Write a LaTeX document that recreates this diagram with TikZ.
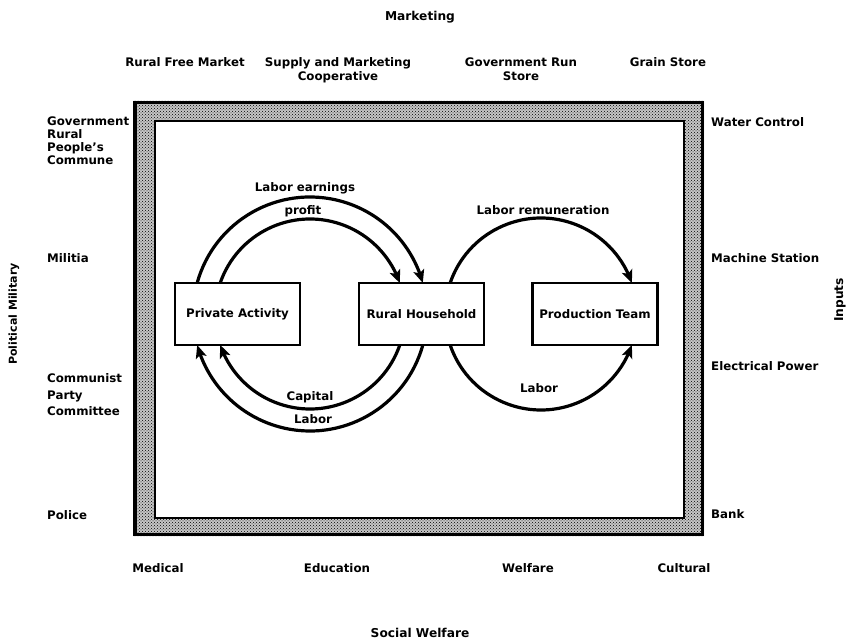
\documentclass[tikz,border=0pt]{standalone}
\usepackage{fontspec}
\setmainfont{DejaVu Sans}
\usetikzlibrary{arrows.meta,patterns,bending}
\begin{document}
\begin{tikzpicture}[x=1pt,y=1pt,
  lbl/.style={font=\bfseries\fontsize{11.8}{14}\selectfont, inner sep=0pt},
  side/.style={lbl, anchor=north west, align=left},
  top/.style={lbl, anchor=north, align=center},
  ttl/.style={font=\bfseries\fontsize{12.2}{14}\selectfont, inner sep=0pt},
  box/.style={draw, line width=2.8pt, minimum width=125pt, minimum height=62pt, inner sep=0pt, lbl},
  flow/.style={line width=3.2pt, -{Stealth[length=13pt,width=11pt,inset=3pt]}},
  arclbl/.style={lbl},
]
\useasboundingbox (0,0) rectangle (855,-644);

% frame
\fill[gray!45, even odd rule] (133,-101) rectangle (704,-536) (155,-121) rectangle (684,-518);
\fill[pattern=crosshatch dots, even odd rule] (133,-101) rectangle (704,-536) (155,-121) rectangle (684,-518);
\draw[line width=3.5pt] (134.75,-102.75) rectangle (702.25,-534.25);
\draw[line width=1.8pt] (155,-121) rectangle (684,-518);

% titles
\node[ttl] (mk) at (420,-17) {Marketing};
\node[ttl] (sw) at (420,-633) {Social Welfare};
\node[ttl, font=\bfseries\fontsize{11}{13}\selectfont, rotate=90] (pm) at (14,-314) {Political Military};
\node[ttl, rotate=90] (inp) at (840,-300) {Inputs};

% top row
\node[top] (rfm) at (185,-57.5) {Rural Free Market};
\node[top] (smc) at (338,-57.5) {Supply and Marketing\\Cooperative};
\node[top] (grs) at (521,-57.5) {Government Run\\Store};
\node[top] (gs)  at (668,-57.5) {Grain Store};

% left column
\node[side, font=\bfseries\fontsize{11.8}{12.8}\selectfont] (gov) at (47,-117) {Government\\Rural\\People's\\Commune};
\node[side] (mil) at (47,-253) {Militia};
\node[side, font=\bfseries\fontsize{11.8}{16.5}\selectfont] (cpc) at (47,-373.5) {Communist\\Party\\Committee};
\node[side] (pol) at (47,-510) {Police};

% right column
\node[side] (wc) at (711,-117.5) {Water Control};
\node[side] (ms) at (711,-253.5) {Machine Station};
\node[side] (ep) at (711,-361.5) {Electrical Power};
\node[side] (bk) at (711,-509.5) {Bank};

% bottom row
\node[top] (med) at (158,-563.5) {Medical};
\node[top] (edu) at (337,-563.5) {Education};
\node[top] (wel) at (528,-563.5) {Welfare};
\node[top] (cul) at (684,-563.5) {Cultural};

% boxes
\node[box] (pa) at (237.5,-314) {Private Activity};
\node[box] (rh) at (421.5,-314) {Rural Household};
\node[box] (pt) at (595,-314) {Production Team};

% circle centres
\coordinate (cl) at (310,-314);
\coordinate (cr) at (541,-314);

% left loop
\draw[flow] (cl) ++(164.6:117pt) arc[start angle=164.6, end angle=15.4, radius=117pt];
\draw[flow] (cl) ++(161:95pt) arc[start angle=161, end angle=19, radius=95pt];
\draw[flow] (cl) ++(-15.4:117pt) arc[start angle=-15.4, end angle=-164.6, radius=117pt];
\draw[flow] (cl) ++(-19:95pt) arc[start angle=-19, end angle=-161, radius=95pt];

% right loop
\draw[flow] (cr) ++(161.2:96pt) arc[start angle=161.2, end angle=18.8, radius=96pt];
\draw[flow] (cr) ++(198.8:96pt) arc[start angle=198.8, end angle=341.2, radius=96pt];

% arc labels
\node[arclbl] (le) at (305,-188) {Labor earnings};
\node[arclbl] (pr) at (303,-211) {profit};
\node[arclbl] (cap) at (310,-397) {Capital};
\node[arclbl] (lb1) at (313,-419) {Labor};
\node[arclbl] (lr) at (543,-210) {Labor remuneration};
\node[arclbl] (lb2) at (539,-388) {Labor};
\end{tikzpicture}
\end{document}
